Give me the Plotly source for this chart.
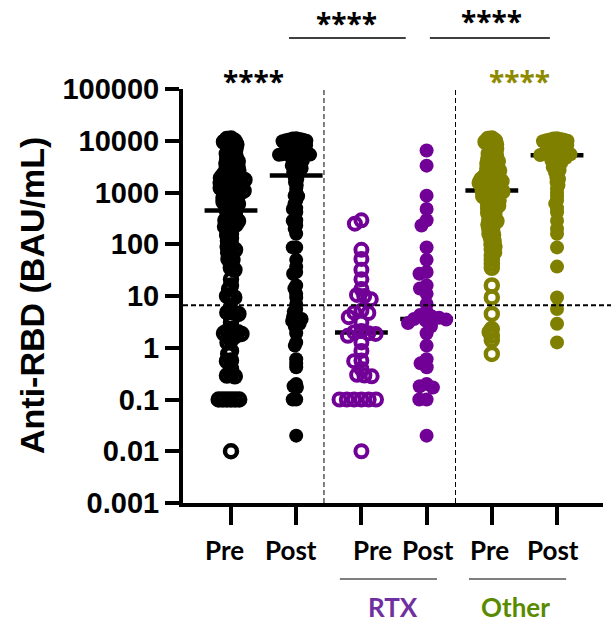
import numpy as np
import plotly.graph_objects as go

# ---------------- data ----------------
categories = ["Pre", "Post", "Pre", "Post", "Pre", "Post"]
group_labels = ["RTX", "Other"]

rtx_pre = [290, 250, 78, 52, 32, 21, 13.6, 10.5, 10, 8.7, 5.2, 4.8, 4.7, 3.9, 3.1,
           2.1, 2.0, 1.9, 1.85, 1.7, 1.27, 0.87, 0.57, 0.55, 0.39, 0.3, 0.29, 0.28,
           0.1, 0.1, 0.1, 0.1, 0.1, 0.1, 0.01]
rtx_post = [6500, 3300, 870, 480, 290, 230, 87, 50, 29, 27, 16, 14, 11, 7, 5.0, 4.3,
            4.0, 3.8, 3.6, 3.5, 3.3, 3.0, 2.6, 1.9, 1.1, 0.6, 0.5, 0.42, 0.2, 0.18,
            0.17, 0.1, 0.1, 0.02]
other_pre = [11000, 10800, 10000, 9500, 9000, 8500, 8000, 7500, 7000, 6500,
             6000, 5600, 5200, 4800, 4500, 4200, 4000, 3800, 3600, 3400,
             3200, 3000, 2900, 2800, 2650, 2500, 2400, 2300, 2200, 2100,
             2000, 1950, 1900, 1850, 1800, 1750, 1700, 1650, 1600, 1550,
             1500, 1450, 1400, 1350, 1300, 1260, 1220, 1190, 1160, 1130,
             1080, 1050, 1000, 950, 900, 880, 850, 800, 760, 720, 700, 660, 620, 600, 560,
             520, 500, 470,
             430, 400, 380, 350, 320, 300, 280, 260, 240, 220, 200, 180, 160, 150, 130, 115,
             100, 90, 80, 70, 60, 50, 42, 35, 16, 9.4, 4.5, 2.3, 2.0, 1.7, 1.4, 0.76]
other_post = [11200, 11000, 10800, 10600, 10400, 10200, 10000, 9800,
              9500, 9200, 9000, 8800, 8600, 8400, 8200, 8000, 7800, 7600, 7400, 7200,
              7000, 6800, 6600, 6400, 6200, 6000, 5900, 5800, 5700, 5600, 5500, 5400,
              5350, 5300, 5250,
              5100, 4900, 4700, 4500, 4300, 4100, 3900, 3700, 3500, 3300, 3100, 2900, 2700,
              2500, 2300,
              2000, 1800, 1600, 1400, 1200, 1000, 850, 700, 610, 500, 415, 285, 200, 160, 87,
              37, 9.4, 5.6, 2.9, 1.27]
all_pre = rtx_pre + other_pre
all_post = rtx_post + other_post

medians = [447, 2130, 1.98, 3.6, 1090, 5250]
cutoff = 6.6

tick_vals = [0.001, 0.01, 0.1, 1, 10, 100, 1000, 10000, 100000]
tick_text = ["0.001", "0.01", "0.1", "1", "10", "100", "1000", "10000", "100000"]
stars = "****"

# ---------------- styles ----------------
BLACK = "#000000"
PURPLE = "#710096"
OLIVE = "#808000"
STAR_OLIVE = "#8E8A00"
RTX_COL = "#7030A0"
OTHER_COL = "#5A8A00"

W, H = 611, 629
AX_L, AX_R, AX_T, AX_B = 183, 603, 89, 503   # plot area in page pixels
ML, MT = AX_L, AX_T
MR, MB = W - AX_R, H - AX_B
X0, X1 = -0.736, 5.705
plot_w = AX_R - AX_L
plot_h = AX_B - AX_T
px_x = plot_w / (X1 - X0)
px_dec = plot_h / 8.0


def xpaper(p):
    return (p - AX_L) / plot_w


def ypaper(p):
    return (AX_B - p) / plot_h


def swarm(values, dmin):
    ys = np.log10(np.asarray(values, dtype=float)) * px_dec
    order = np.argsort(-ys, kind="stable")
    placed = []
    offs = np.zeros(len(ys))
    for i in order:
        y = ys[i]
        iv = []
        for xj, yj in placed:
            dy = abs(y - yj)
            if dy < dmin:
                w = np.sqrt(dmin ** 2 - dy ** 2)
                iv.append((xj - w, xj + w))
        cands = [0.0] + [a for a, b in iv] + [b for a, b in iv]
        valid = [c for c in cands if all(not (a + 1e-6 < c < b - 1e-6) for a, b in iv)]
        x = min(valid, key=lambda c: (abs(c), c))
        placed.append((x, y))
        offs[i] = x
    return offs / px_x


groups = [
    (all_pre, BLACK, "circle-open", 12, 4.5, 4.1),
    (all_post, BLACK, "circle", 14, 0, 3.5),
    (rtx_pre, PURPLE, "circle-open", 12, 4.0, 7.3),
    (rtx_post, PURPLE, "circle", 14, 0, 7.3),
    (other_pre, OLIVE, "circle-open", 12, 4.5, 3.8),
    (other_post, OLIVE, "circle", 14, 0, 3.6),
]

fig = go.Figure()

# median lines (below points)
for i, m in enumerate(medians):
    fig.add_trace(go.Scatter(x=[i - 0.405, i + 0.405], y=[m, m], mode="lines",
                             line=dict(color=BLACK, width=4.5), showlegend=False,
                             hoverinfo="skip"))

for i, (vals, col, sym, size, lw, dmin) in enumerate(groups):
    xs = i + swarm(vals, dmin)
    marker = dict(color=col, size=size, symbol=sym)
    if lw:
        marker["line"] = dict(color=col, width=lw)
    fig.add_trace(go.Scatter(x=xs, y=vals, mode="markers", marker=marker,
                             showlegend=False, cliponaxis=False))

shapes = []
# cutoff dashed line
shapes.append(dict(type="line", xref="paper", yref="y", x0=0, x1=xpaper(611),
                   y0=cutoff, y1=cutoff, line=dict(color=BLACK, width=2, dash="5px,3px"),
                   layer="above"))
# vertical separators
for xv in [1.426, 3.443]:
    shapes.append(dict(type="line", xref="x", yref="paper", x0=xv, x1=xv, y0=0, y1=1,
                       line=dict(color=BLACK, width=1, dash="5px,3px"), layer="above"))
# significance brackets
for xa, xb in [(0.89, 2.68), (3.05, 4.89)]:
    shapes.append(dict(type="line", xref="x", yref="paper", x0=xa, x1=xb,
                       y0=ypaper(38), y1=ypaper(38), line=dict(color=BLACK, width=1.5)))
# group underlines
for xa, xb in [(1.67, 3.16), (3.65, 5.14)]:
    shapes.append(dict(type="line", xref="x", yref="paper", x0=xa, x1=xb,
                       y0=ypaper(579), y1=ypaper(579), line=dict(color=BLACK, width=1.2)))

LABEL_FONT = "Lato, Noto Sans, sans-serif"
ann = []
label_shift = [-6, -5, 11, 1, -2, -4]
for i, c in enumerate(categories):
    ann.append(dict(text=c, x=i, xref="x", y=ypaper(550), yref="paper",
                    xshift=label_shift[i], showarrow=False, xanchor="center", yanchor="middle",
                    font=dict(family=LABEL_FONT, size=26, color=BLACK, weight="bold")))
ann.append(dict(text=group_labels[0], x=2.485, xref="x", y=ypaper(607), yref="paper",
                showarrow=False, xanchor="center", yanchor="middle",
                font=dict(family=LABEL_FONT, size=26, color=RTX_COL, weight="bold")))
ann.append(dict(text=group_labels[1], x=4.37, xref="x", y=ypaper(607), yref="paper",
                showarrow=False, xanchor="center", yanchor="middle",
                font=dict(family=LABEL_FONT, size=26, color=OTHER_COL, weight="bold")))
# stars
STAR_FONT = "Open Sans, Lato, sans-serif"
for xs_, ypx, col in [(1.775, 23, BLACK), (4.0, 21, BLACK), (0.35, 81, BLACK), (4.42, 81, STAR_OLIVE)]:
    ann.append(dict(text=stars, x=xs_, xref="x", y=ypaper(ypx), yref="paper",
                    showarrow=False, xanchor="center", yanchor="middle",
                    font=dict(family=STAR_FONT, size=28, color=col, weight="bold")))
# y title
ann.append(dict(text="Anti-RBD (BAU/mL)", textangle=-90, x=xpaper(32), xref="paper",
                y=ypaper(296), yref="paper", showarrow=False,
                xanchor="center", yanchor="middle",
                font=dict(family="Liberation Sans, Arial, sans-serif", size=34, color=BLACK,
                          weight="bold")))

fig.update_layout(
    width=W, height=H, margin=dict(l=ML, r=MR, t=MT, b=MB),
    plot_bgcolor="white", paper_bgcolor="white",
    shapes=shapes, annotations=ann, showlegend=False,
    xaxis=dict(range=[X0, X1], tickvals=list(range(6)), showticklabels=False,
               ticks="outside", ticklen=18, tickwidth=4, tickcolor=BLACK,
               showline=True, linewidth=4, linecolor=BLACK, showgrid=False, zeroline=False),
    yaxis=dict(type="log", range=[-3, 5], tickvals=tick_vals, ticktext=tick_text,
               ticks="outside", ticklen=14, tickwidth=4, tickcolor=BLACK,
               showline=True, linewidth=4, linecolor=BLACK, showgrid=False, zeroline=False,
               tickfont=dict(family="Liberation Sans, Arial, sans-serif", size=29,
                             color=BLACK, weight="bold")),
)

fig.write_html("out.html", config={"displayModeBar": False},
               post_script="document.body.style.margin='0';document.body.style.overflow='hidden';")
